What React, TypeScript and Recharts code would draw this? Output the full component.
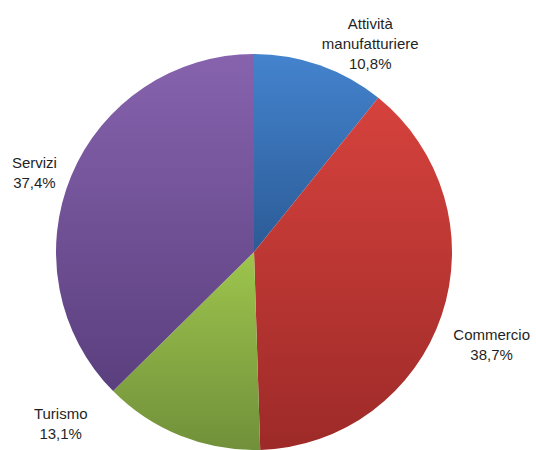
import { PieChart, Pie, Cell } from 'recharts';

const categories = ['Attività manufatturiere', 'Commercio', 'Turismo', 'Servizi'];
const labelLines = [['Attività', 'manufatturiere'], ['Commercio'], ['Turismo'], ['Servizi']];
const shares = [10.8, 38.7, 13.1, 37.4];

const topColors = ['#4483ce', '#d6423d', '#9ec54d', '#8763ae'];
const bottomColors = ['#2b5b96', '#9d2a28', '#71903a', '#5a3f7e'];

// nudges from the default radial label spot, to match the hand-placed labels
const labelNudge = [
  [37, 15],
  [12, 16],
  [-105, -50],
  [0, 12],
];

const data = categories.map((name, i) => ({ name, value: shares[i] }));

const RADIAN = Math.PI / 180;

const renderLabel = ({ cx, cy, midAngle, outerRadius, index }: any) => {
  const r = outerRadius + 40;
  const x = cx + r * Math.cos(-midAngle * RADIAN) + labelNudge[index][0];
  const y = cy + r * Math.sin(-midAngle * RADIAN) + labelNudge[index][1];
  const lines = [...labelLines[index], shares[index].toFixed(1).replace('.', ',') + '%'];
  const lh = 20;
  const y0 = y - ((lines.length - 1) * lh) / 2;
  return (
    <text x={x} y={y0} textAnchor="middle" dominantBaseline="central"
      fontFamily="'Liberation Sans', Arial, sans-serif" fontSize={15} fill="#1f1f1f">
      {lines.map((l, i) => (
        <tspan key={i} x={x} y={y0 + i * lh}>{l}</tspan>
      ))}
    </text>
  );
};

export default function App() {
  return (
    <div style={{ width: 536, height: 450, background: '#fff' }}>
      <style>{'body{margin:0}'}</style>
      <PieChart width={536} height={450} margin={{ top: 0, right: 0, bottom: 0, left: 0 }}>
        <defs>
          {topColors.map((c, i) => (
            <linearGradient key={i} id={`g${i}`} x1="0" y1="0" x2="0" y2="1">
              <stop offset="0%" stopColor={c} />
              <stop offset="100%" stopColor={bottomColors[i]} />
            </linearGradient>
          ))}
        </defs>
        <Pie data={data} dataKey="value" nameKey="name" cx={254} cy={252} outerRadius={198}
          startAngle={90} endAngle={-270} stroke="none" label={renderLabel} labelLine={false}
          isAnimationActive={false}>
          {data.map((d, i) => (
            <Cell key={d.name} fill={`url(#g${i})`} />
          ))}
        </Pie>
      </PieChart>
    </div>
  );
}
